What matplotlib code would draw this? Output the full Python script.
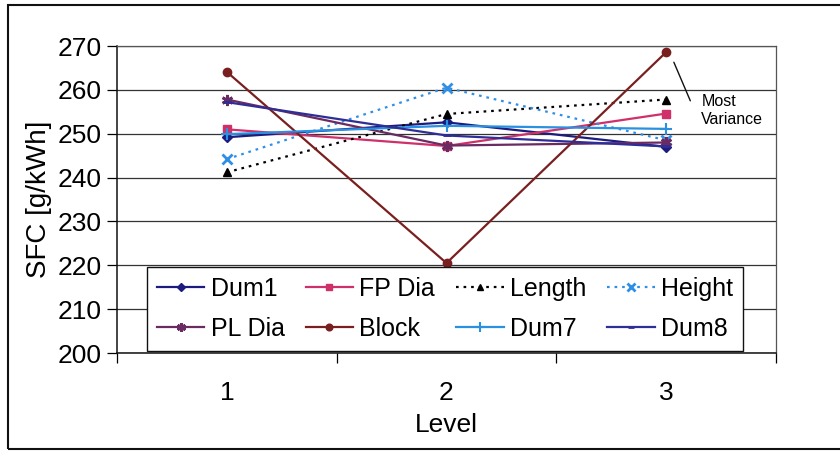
import matplotlib
matplotlib.use("Agg")
import matplotlib.pyplot as plt
from matplotlib.patches import Rectangle
from matplotlib.ticker import FixedLocator, NullFormatter

plt.rcParams['font.family'] = ['Liberation Sans', 'DejaVu Sans']

levels = ["1", "2", "3"]
dum1 = [249.2, 252.6, 247.0]
fp_dia = [251.0, 247.2, 254.6]
length = [241.2, 254.5, 257.8]
height = [244.2, 260.5, 248.5]
pl_dia = [257.8, 247.3, 248.0]
block = [264.1, 220.5, 268.6]
dum7 = [249.9, 251.8, 251.1]
dum8 = [257.2, 249.6, 247.1]

y_ticks = [200, 210, 220, 230, 240, 250, 260, 270]

series = [
    ("Dum1", dum1, dict(color="#1c1c80", ls="-", marker="D", ms=5)),
    ("FP Dia", fp_dia, dict(color="#d0306a", ls="-", marker="s", ms=6)),
    ("Length", length, dict(color="#000000", ls=(0, (1.2, 2.2)), marker="^", ms=6)),
    ("Height", height, dict(color="#2f8fe6", ls=(0, (1.2, 2.2)), marker="x", ms=7, mew=2)),
    ("PL Dia", pl_dia, dict(color="#6a2a62", ls="-", marker=(6, 2, 0), ms=8, mew=2)),
    ("Block", block, dict(color="#7a1f1f", ls="-", marker="o", ms=6)),
    ("Dum7", dum7, dict(color="#2a90e0", ls="-", marker="+", ms=9, mew=1.5)),
    ("Dum8", dum8, dict(color="#2e2e96", ls="-", marker="_", ms=6, mew=2)),
]

fig = plt.figure(figsize=(8.4, 4.51), dpi=100)
ax = fig.add_axes([117 / 840, 1 - 353 / 451, 659 / 840, 307 / 451])

x = list(range(len(levels)))
lines = {}
for name, vals, st in series:
    lines[name], = ax.plot(x, vals, label=name, lw=1.6, **st)

ax.set_xlim(-0.5, 2.5)
ax.set_ylim(200, 270)
ax.set_yticks(y_ticks)
ax.yaxis.grid(True, color="#333333", lw=0.9)
ax.set_axisbelow(True)

# category boundaries carry the tick marks, labels sit at the category centres
ax.xaxis.set_major_locator(FixedLocator([-0.5, 0.5, 1.5, 2.5]))
ax.xaxis.set_major_formatter(NullFormatter())
ax.xaxis.set_minor_locator(FixedLocator(x))
ax.set_xticklabels(levels, minor=True)
ax.tick_params(axis="x", which="major", direction="out", length=7, width=0.9)
ax.tick_params(axis="x", which="minor", length=0, pad=20, labelsize=19)
ax.tick_params(axis="y", direction="out", length=7, width=0.9, labelsize=19, pad=4)

for side in ("top", "right"):
    ax.spines[side].set_color("#555555")
    ax.spines[side].set_linewidth(0.9)
for side in ("left", "bottom"):
    ax.spines[side].set_color("#111111")
    ax.spines[side].set_linewidth(1.1)

ax.set_xlabel("Level", fontsize=19, labelpad=6)
ax.set_ylabel("SFC [g/kWh]", fontsize=20)
ax.yaxis.set_label_coords(-0.099, 0.5)

# legend reads row by row: matplotlib fills columns first, so interleave
order = ["Dum1", "PL Dia", "FP Dia", "Block", "Length", "Dum7", "Height", "Dum8"]
leg = ax.legend([lines[n] for n in order], order, ncol=4, loc="upper left",
                bbox_to_anchor=(0.0455, 0.280),
                fontsize=18, frameon=True, fancybox=False, framealpha=1,
                edgecolor="#111111", handlelength=1.9, handletextpad=0.25,
                columnspacing=0.84, borderpad=0.4, labelspacing=0.62,
                borderaxespad=0, markerscale=0.8)
leg.get_frame().set_linewidth(1.0)

ax.annotate("", xy=(2.035, 266.3), xytext=(2.11, 257.5),
            arrowprops=dict(arrowstyle="-", color="#111111", lw=1.0,
                            shrinkA=0, shrinkB=0))
ax.text(2.16, 255.4, "Most\nVariance", fontsize=11.5, ha="left", va="center",
        linespacing=1.25)

fig.patches.append(Rectangle((8 / 840, 2 / 451), 840 / 840, 444 / 451,
                             transform=fig.transFigure, fill=False,
                             edgecolor="#111111", lw=1.5))

fig.savefig("out.png", dpi=100, facecolor="white")
